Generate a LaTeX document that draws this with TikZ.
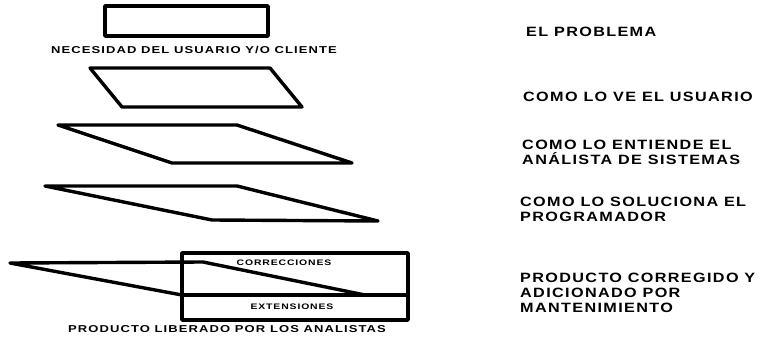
\documentclass[tikz,border=0pt]{standalone}
\usepackage{fontspec}
\newfontfamily\lab[LetterSpace=11,FakeStretch=1.3]{Liberation Sans Bold}
\newfontfamily\labbig[LetterSpace=10,FakeStretch=1.2]{Liberation Sans Bold}
\begin{document}
\begin{tikzpicture}[x=1pt,y=-1pt,
  shp/.style={draw=black,line width=3.4pt,line join=round},
  big/.style={font=\labbig\fontsize{13.5}{15}\selectfont,anchor=west,inner sep=0pt,align=left},
  small/.style={font=\lab\fontsize{10}{12}\selectfont,inner sep=0pt},
  tiny/.style={font=\lab\fontsize{8}{10}\selectfont,inner sep=0pt}]
\useasboundingbox (0,0) rectangle (762,345);
% shape 1
\draw[shp] (105,6) rectangle (268,36);
\node[small] (l1) at (194,50) {NECESIDAD DEL USUARIO Y/O CLIENTE};
% shape 2
\draw[shp] (90,68) -- (270,68) -- (302,107) -- (122,107) -- cycle;
% shape 3
\draw[shp] (58,125) -- (237,125) -- (352,163) -- (172,163) -- cycle;
% shape 4
\draw[shp] (45,186) -- (237,186) -- (378,221) -- (212,220) -- cycle;
% shape 5
\draw[shp] (10,263) -- (203,262) -- (365,295) -- (182,295) -- cycle;
\draw[shp] (182,253) rectangle (408,320);
\draw[shp] (182,295) -- (408,295);
\node[tiny] (corr) at (284,263) {CORRECCIONES};
\node[tiny] (ext) at (292,307) {EXTENSIONES};
\node[small] (lib) at (227,329) {PRODUCTO LIBERADO POR LOS ANALISTAS};
% right labels
\node[big] (r1) at (526,32) {EL PROBLEMA};
\node[big] (r2) at (523,97) {COMO LO VE EL USUARIO};
\node[big] (r3) at (522,152) {COMO LO ENTIENDE EL\\ANÁLISTA DE SISTEMAS};
\node[big] (r4) at (520,209) {COMO LO SOLUCIONA EL\\PROGRAMADOR};
\node[big] (r5) at (520,293) {PRODUCTO CORREGIDO Y\\ADICIONADO POR\\MANTENIMIENTO};
\end{tikzpicture}
\end{document}
